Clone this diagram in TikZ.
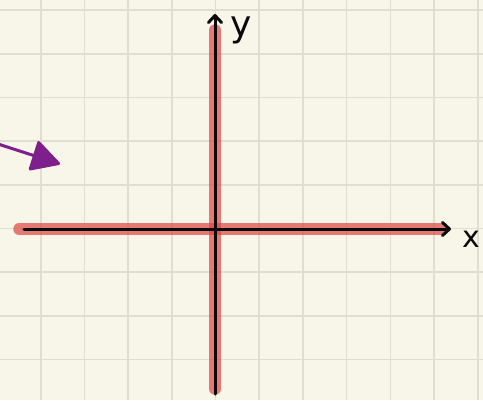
\documentclass[tikz,border=0pt]{standalone}
\usepackage{fontspec}
\setsansfont{DejaVu Sans}
\usetikzlibrary{arrows.meta}
\definecolor{planePaper}{HTML}{F8F5E9}
\definecolor{planeGrid}{HTML}{E0DED1}
\definecolor{planeMark}{HTML}{DC4742}
\definecolor{planeAxis}{HTML}{0A0A0A}
\definecolor{planePointer}{HTML}{7E1F8B}

\begin{document}
\begin{tikzpicture}[
    x=1pt,y=-1pt,
    every node/.style={font=\sffamily,text=planeAxis,inner sep=0pt},
    gridline/.style={draw=planeGrid,line width=1.6pt},
    highlight/.style={draw=planeMark,line width=11.5pt,line cap=round,opacity=0.7},
    axis/.style={-{Straight Barb[length=7pt,width=13pt,line width=3pt,round]},draw=planeAxis,line width=3pt,line cap=round},
    pointer/.style={-{Triangle[length=30pt,width=32pt,round]},draw=planePointer,line width=3pt}
]
\fill[planePaper] (0,0) rectangle (483,400);
\useasboundingbox (0,0) rectangle (483,400);
% paper grid
\foreach \gx in {0,...,10}
  \draw[gridline] ({40.7+43.7*\gx},0) -- ++(0,400);
\foreach \gy in {0,...,8}
  \draw[gridline] (0,{10+43.7*\gy}) -- ++(483,0);

\coordinate (origin) at (215,229);
\coordinate (xleft) at (24,229);
\coordinate (xright) at (451,229);
\coordinate (ybottom) at (215,394);
\coordinate (ytop) at (215,14);

% highlighted axes
\draw[highlight] (19,229) -- (441,229);
\draw[highlight] (215,389) -- (215,30);

\draw[axis] (xleft) -- (xright);
\draw[axis] (ybottom) -- (ytop);
\node[font=\sffamily\fontsize{30}{30}\selectfont] (xlabel) at (471,239) {x};
\node[font=\sffamily\fontsize{36}{36}\selectfont] (ylabel) at (241,30) {y};

\coordinate (pointerTail) at (-2,144);
\coordinate (pointerTip) at (60,164);
\draw[pointer] (pointerTail) -- (pointerTip);
\end{tikzpicture}
\end{document}
